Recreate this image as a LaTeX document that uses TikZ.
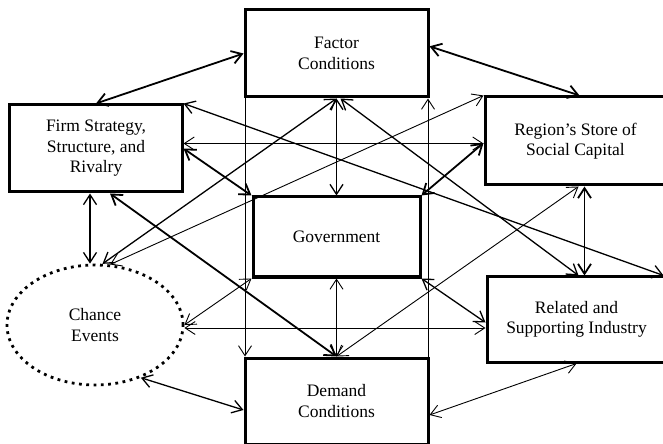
\documentclass[tikz,border=0pt]{standalone}
\usepackage{fontspec}
\setmainfont{Liberation Serif}
\usetikzlibrary{arrows.meta,calc,shapes.geometric}
\begin{document}
\begin{tikzpicture}[x=1bp,y=-1bp,
  box/.style={draw, line width=3bp, inner sep=0pt, align=center,
    font=\fontsize{17.5bp}{20.5bp}\selectfont},
  ar/.style={{Straight Barb[length=10bp,width=13bp]}-{Straight Barb[length=10bp,width=13bp]}},
  ar1/.style={-{Straight Barb[length=10bp,width=13bp]}},
  cA/.style={line width=1.8bp},
  cB/.style={line width=1.3bp},
  cC/.style={line width=0.9bp}]
\useasboundingbox (0,0) rectangle (663,444);
\begin{scope}
\clip (0,0) rectangle (663,444);
\node[box, minimum width=183bp, minimum height=87bp] (fc) at (336.5,53.5) {Factor\\Conditions};
\node[box, minimum width=172bp, minimum height=87bp] (fs) at (96,148.5) {Firm Strategy,\\Structure, and\\Rivalry};
\node[box, minimum width=167bp, minimum height=80bp] (gov) at (336.5,237) {Government};
\node[box, minimum width=181bp, minimum height=88bp] (rs) at (575.5,141) {Region’s Store of\\Social Capital};
\node[box, minimum width=179bp, minimum height=85bp] (rel) at (576.5,319.5) {Related and\\Supporting Industry};
\node[box, minimum width=183bp, minimum height=86bp] (dc) at (336.5,401) {Demand\\Conditions};
\node[ellipse, draw, line width=2.8bp, dash pattern=on 2.8bp off 4.5bp, inner sep=0pt,
  minimum width=176bp, minimum height=120bp, align=center,
  font=\fontsize{17.5bp}{20.5bp}\selectfont] (ce) at (95,325) {Chance\\Events};

\coordinate (fcr) at ($(fc.north east)!0.42!(fc.south east)$);
\coordinate (rsb) at ($(rs.south)+(9,0)$);
\coordinate (fsb) at ($(fs.south)+(-6,0)$);
\coordinate (h1) at ($(fs.east)+(0,-5)$);
\coordinate (h2) at ($(ce.east)+(0,3)$);

\draw[ar,cA] (fs.north) -- (fc.west);
\draw[ar,cA] (fcr) -- ($(rs.north)+(4,0)$);
\draw[ar,cB] (fc.south) -- (gov.north);
\draw[ar,cC] (gov.south) -- (dc.north);
\draw[ar,cA] (rsb) -- (rsb |- rel.north);
\draw[ar,cB] (fsb) -- (fsb |- ce.north);
\draw[ar,cB] (ce.-49) -- ($(dc.west)+(0,9)$);
\draw[ar,cC] (rel.south) -- ($(dc.east)+(0,14)$);
\draw[ar,cC] (h1) -- (h1 -| rs.west);
\draw[ar,cC] (h2) -- (h2 -| rel.west);
\draw[ar,cB] (fs.north east) -- ($(rel.north east)+(-4,0)$);
\draw[ar,cA] ($(fs.south)+(14,0)$) -- (dc.north);
\draw[ar,cA] (fs.east) -- (gov.north west);
\draw[ar,cB] (ce.83) -- (fc.south);
\draw[ar,cC] (ce.76) -- (rs.north west);
\draw[ar,cB] ($(fc.south)+(4,0)$) -- ($(rel.north)+(2,0)$);
\draw[ar,cA] ($(rs.west)+(0,2)$) -- (gov.north east);
\draw[ar,cC] (ce.east) -- (gov.south west);
\draw[ar,cB] (gov.south east) -- ($(rel.west)+(0,3)$);
\draw[ar,cC] (dc.north) -- ($(rs.south)+(3,0)$);
\draw[ar1,cC] ($(fc.south west)+(1.5,0)$) -- ($(dc.north west)+(1.5,0)$);
\draw[ar1,cC] ($(dc.north east)+(-1.5,0)$) -- ($(fc.south east)+(-1.5,0)$);
\end{scope}
\end{tikzpicture}
\end{document}
